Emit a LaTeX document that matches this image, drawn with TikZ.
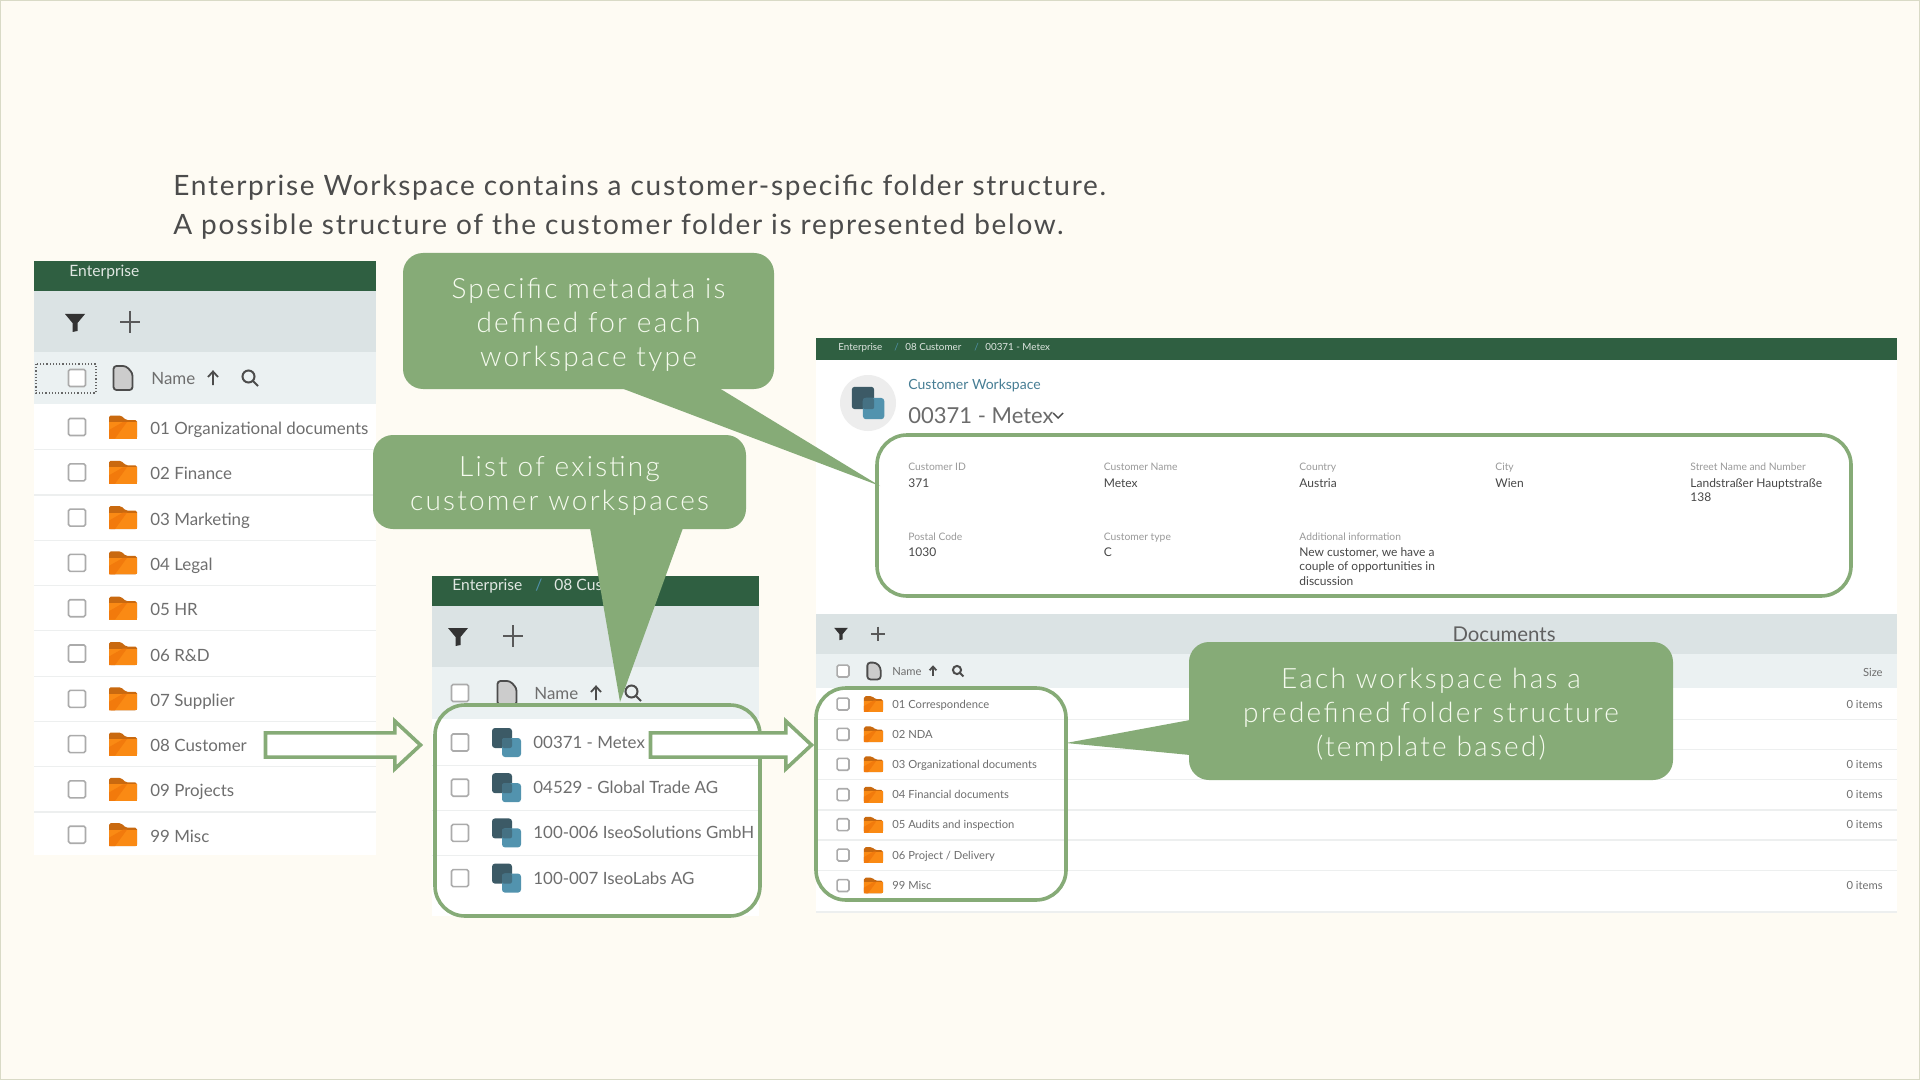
\documentclass[tikz,border=0pt]{standalone}
\usepackage{fontspec}
\setmainfont{Lato}
\newfontfamily\titlefont{Lato}[LetterSpace=6.2]
\newfontfamily\calloutfont{Lato}[UprightFont=* Light,LetterSpace=8]
\usepackage{tikz}
\usetikzlibrary{shapes.arrows}
\definecolor{pagebg}{HTML}{FEFBF3}
\definecolor{pageline}{HTML}{D9DAC6}
\definecolor{headgreen}{HTML}{2F5F41}
\definecolor{toolbar}{HTML}{DBE3E4}
\definecolor{listhead}{HTML}{EBF1F2}
\definecolor{rowline}{HTML}{EDEFEF}
\definecolor{callgreen}{HTML}{86AB77}
\definecolor{calltext}{HTML}{F6FBEF}
\definecolor{uitext}{HTML}{6E6E6E}
\definecolor{wsdark}{HTML}{3C5A66}
\definecolor{wsblue}{HTML}{5293AE}
\definecolor{foldertab}{HTML}{C9690F}
\definecolor{folderbody}{HTML}{FA8A14}
\definecolor{folderfold}{HTML}{F27A0C}
\tikzset{
  txt_title/.style = {anchor=base west, inner sep=0pt, yshift=-5pt, text=black!70, font=\titlefont\fontsize{14}{16}\selectfont},
  txt_head/.style = {anchor=base west, inner sep=0pt, yshift=-2.8pt, text=white!85!headgreen, font=\fontsize{7.8}{9}\selectfont},
  txt_headsm/.style = {anchor=base west, inner sep=0pt, yshift=-1.7pt, text=white!85!headgreen, font=\fontsize{4.9}{6}\selectfont},
  txt_lg/.style = {anchor=base west, inner sep=0pt, yshift=-3pt, text=uitext, font=\fontsize{8.45}{10}\selectfont},
  txt_sm/.style = {anchor=base west, inner sep=0pt, yshift=-2pt, text=uitext, font=\fontsize{5.6}{7}\selectfont},
  txt_label/.style = {anchor=base west, inner sep=0pt, yshift=-1.8pt, text=black!40, font=\fontsize{5.15}{6}\selectfont},
  txt_value/.style = {anchor=base west, inner sep=0pt, yshift=-2.1pt, text=black!72, font=\fontsize{6}{7}\selectfont},
  callout/.style = {fill=callgreen, rounded corners=10pt, inner sep=0pt, align=center,
    text=calltext, font=\calloutfont\fontsize{14}{17}\selectfont},
  tail/.style = {fill=callgreen},
  outline/.style = {draw=callgreen, line width=1.8pt, rounded corners=15pt, inner sep=0pt},
  blockarrow/.style = {single arrow, draw=callgreen, line width=1.8pt, inner sep=0pt,
    single arrow head indent=0pt, single arrow tip angle=86, single arrow head extend=5.9pt},
  checkbox/.pic = {\draw [draw=black!33, fill=white, line width=0.8pt, rounded corners=0.8pt]
    (-8.5,-8.5) rectangle (8.5,8.5);},
  foldericon/.pic = {
    \fill [foldertab, rounded corners=0.8pt] (-14,11.5) -- (-14,-11.5) -- (-2,-11.5) -- (3,-7) -- (14,-7) -- (14,11.5) -- cycle;
    \fill [folderbody] (-14,-5) -- (14,-5) -- (14,11.5) -- (-14,11.5) -- cycle;
    \fill [folderfold] (-14,11.5) -- (-14,3) -- (0,-5) -- (4,-5) -- (-8,11.5) -- cycle;},
  wsicon/.pic = {
    \fill [wsdark, rounded corners=1.5pt] (-14.5,-14.5) rectangle (5.5,5.5);
    \fill [wsblue, rounded corners=1.5pt] (-4.5,-4.5) rectangle (14.5,14.5);
    \fill [wsdark!60!wsblue, rounded corners=1pt] (-4.5,-4.5) rectangle (5.5,5.5);},
  filtericon/.pic = {\fill [black!80] (-10,-9) -- (10,-9) -- (2.5,0) -- (2.5,8) -- (-2.5,9) -- (-2.5,0) -- cycle;},
  plusicon/.pic = {\draw [black!65, line width=0.7pt] (-10,0) -- (10,0) (0,-11) -- (0,11);},
  docicon/.pic = {\draw [draw=black!70, fill=black!20, line width=0.9pt, rounded corners=1.5pt]
    (0,12) -- (-9.5,12) -- (-9.5,-12) -- (3,-12) -- (9.5,-5) -- (9.5,12) -- cycle;},
  uparrow/.pic = {\draw [black!70, line width=0.9pt] (0,7) -- (0,-6) (-5,-1) -- (0,-6.5) -- (5,-1);},
  searchicon/.pic = {\draw [black!70, line width=1pt] (-1.5,-1.5) circle [radius=3pt] (2.5,2.5) -- (8,8);}
}
\begin{document}
\begin{tikzpicture}[x=0.5pt,y=-0.5pt]
	\useasboundingbox (0,0) rectangle (1920,1080);
	\fill [pagebg] (0,0) rectangle (1920,1080);
	\draw [pageline, line width=1.2pt] (0,0) rectangle (1920,1080);

	% intro text
	\node [txt_title] (title_a) at (173,186) {Enterprise Workspace contains a customer-specific folder structure.};
	\node [txt_title] (title_b) at (173,225) {A possible structure of the customer folder is represented below.};

	% left panel, enterprise folders
	\fill [white] (34,404) rectangle (376,855);
	\fill [headgreen] (34,261) rectangle (376,291);
	\fill [toolbar] (34,291) rectangle (376,352);
	\fill [listhead] (34,352) rectangle (376,404);
	\node [txt_head] (ent_a) at (69,271) {Enterprise};
	\pic at (75,323) {filtericon};
	\pic at (130,322) {plusicon};
	\draw [black!60, densely dotted, line width=0.6pt] (36,364) rectangle (96,393);
	\pic at (77,378) {checkbox};
	\pic at (123,378) {docicon};
	\node [txt_lg] (name_a) at (151,379) {Name};
	\pic at (213,378) {uparrow};
	\pic at (250,378) {searchicon};
	\foreach \i/\txt in {0/01 Organizational documents, 1/02 Finance, 2/03 Marketing, 3/04 Legal, 4/05 HR,
	                     5/06 R\&D, 6/07 Supplier, 7/08 Customer, 8/09 Projects, 9/99 Misc} {
		\pgfmathsetmacro\yy{427+45.3*\i}
		\pic at (77,\yy) {checkbox};
		\pic at (123,\yy) {foldericon};
		\node [txt_lg] (folder_\i) at (150,\yy+1.5) {\txt};
		\ifnum\i<9 \draw [rowline, line width=0.6pt] (34,\yy+22.6) -- (376,\yy+22.6); \fi
	}

	% middle panel, customer workspaces
	\fill [white] (432,719) rectangle (759,916);
	\fill [headgreen] (432,576) rectangle (759,606);
	\fill [toolbar] (432,606) rectangle (759,667);
	\fill [listhead] (432,667) rectangle (759,719);
	\node [txt_head] (ent_b) at (452,585) {Enterprise};
	\node [txt_head, text=wsblue] (sep_b) at (535,585) {/};
	\node [txt_head] (cust_b) at (554,585) {08 Customer};
	\pic at (458,637) {filtericon};
	\pic at (513,636) {plusicon};
	\pic at (460,693) {checkbox};
	\pic at (507,693) {docicon};
	\node [txt_lg] (name_b) at (534,693) {Name};
	\pic at (596,693) {uparrow};
	\pic at (633,693) {searchicon};
	\foreach \i/\txt in {0/00371 - Metex, 1/04529 - Global Trade AG, 2/100-006 IseoSolutions GmbH, 3/100-007 IseoLabs AG} {
		\pgfmathsetmacro\yy{742.5+45.2*\i}
		\pic at (460,\yy) {checkbox};
		\pic at (506.5,\yy) {wsicon};
		\node [txt_lg] (ws_\i) at (533,\yy) {\txt};
		\ifnum\i<3 \draw [rowline, line width=0.6pt] (432,\yy+22.6) -- (759,\yy+22.6); \fi
	}

	% right panel, one customer workspace
	\fill [white] (816,359) rectangle (1897,614);
	\fill [headgreen] (816,338) rectangle (1897,360);
	\node [txt_headsm] (ent_c) at (838,347) {Enterprise};
	\node [txt_headsm, text=wsblue] (sep_c) at (894,347) {/};
	\node [txt_headsm] (cust_c) at (905,347) {08 Customer};
	\node [txt_headsm, text=wsblue] (sep_d) at (974,347) {/};
	\node [txt_headsm] (ws_c) at (985,347) {00371 - Metex};
	\fill [black!7] (868,403) circle [radius=14pt];
	\pic [scale=1.12] at (868,403) {wsicon};
	\node [txt_lg, text=wsblue!85!black, font=\fontsize{7}{9}\selectfont] (ws_type) at (908,383) {Customer Workspace};
	\node [txt_lg, text=black!58, font=\fontsize{11}{13}\selectfont] (ws_title) at (908,417) {00371 - Metex};
	\draw [black!70, line width=0.7pt] (1053,413) -- (1058,418) -- (1063,413);

	\node [txt_label] (lab_a) at (908,467) {Customer ID};
	\node [txt_value] (val_a) at (908,483) {371};
	\node [txt_label] (lab_b) at (1103.5,467) {Customer Name};
	\node [txt_value] (val_b) at (1103.5,483) {Metex};
	\node [txt_label] (lab_c) at (1299,467) {Country};
	\node [txt_value] (val_c) at (1299,483) {Austria};
	\node [txt_label] (lab_d) at (1495,467) {City};
	\node [txt_value] (val_d) at (1495,483) {Wien};
	\node [txt_label] (lab_e) at (1690,467) {Street Name and Number};
	\node [txt_value] (val_e) at (1690,483) {Landstraßer Hauptstraße};
	\node [txt_value] (val_f) at (1690,497) {138};
	\node [txt_label] (lab_g) at (908,537) {Postal Code};
	\node [txt_value] (val_g) at (908,552) {1030};
	\node [txt_label] (lab_h) at (1103.5,537) {Customer type};
	\node [txt_value] (val_h) at (1103.5,552) {C};
	\node [txt_label] (lab_i) at (1299,537) {Additional information};
	\node [txt_value] (val_i) at (1299,552) {New customer, we have a};
	\node [txt_value] (val_j) at (1299,566) {couple of opportunities in};
	\node [txt_value] (val_k) at (1299,581) {discussion};

	% documents list
	\fill [toolbar] (816,614) rectangle (1897,654);
	\fill [listhead] (816,654) rectangle (1897,688);
	\fill [white] (816,688) rectangle (1897,912);
	\node [txt_lg, anchor=base, text=black!62, font=\fontsize{10.2}{12}\selectfont] (docs) at (1504,635.5) {Documents};
	\pic [scale=0.68] at (841,634) {filtericon};
	\pic [scale=0.68] at (878,634) {plusicon};
	\pic [scale=0.7] at (843,671) {checkbox};
	\pic [scale=0.7] at (874,671) {docicon};
	\node [txt_sm] (name_c) at (892,671) {Name};
	\pic [scale=0.68] at (933,671) {uparrow};
	\pic [scale=0.68] at (958,671) {searchicon};
	\node [txt_sm, anchor=base east] (size) at (1883,672) {Size};
	\foreach \i/\yy/\txt in {0/704/01 Correspondence, 1/734.3/02 NDA, 2/764.3/03 Organizational documents, 3/794.7/04 Financial documents,
	                         4/824.7/05 Audits and inspection, 5/855/{06 Project / Delivery}, 6/885.5/99 Misc} {
		\pic [scale=0.7] at (843,\yy) {checkbox};
		\pic [scale=0.68] at (873.5,\yy) {foldericon};
		\node [txt_sm] (doc_\i) at (892,\yy) {\txt};
		\ifnum\i<6 \draw [rowline, line width=0.6pt] (816,\yy+15.3) -- (1897,\yy+15.3); \fi
	}
	\draw [rowline, line width=0.6pt] (816,912) -- (1897,912);
	\foreach \i/\yy in {0/704, 2/764.3, 3/794.7, 4/824.7, 6/885.5} {
		\node [txt_sm, anchor=base east] (items_\i) at (1883,\yy) {0 items};
	}

	% green frames
	\node [outline, minimum width=162.5pt, minimum height=105.5pt] (box_list) at (597.5,810.5) {};
	\node [outline, minimum width=487pt, minimum height=80.5pt] (box_meta) at (1364,515.5) {};
	\node [outline, minimum width=125pt, minimum height=106pt] (box_docs) at (941,794) {};

	% block arrows
	\node [blockarrow, minimum height=77.5pt] (arrow_a) at (336.5,745) {\rule{0pt}{10.3pt}};
	\node [blockarrow, fill=white, minimum height=80.5pt] (arrow_b) at (724.5,745) {\rule{0pt}{10.3pt}};

	% callouts
	\coordinate (tip_meta) at (880,486);
	\coordinate (tip_list) at (620,702);
	\coordinate (tip_docs) at (1066,743);
	\fill [tail] (621,388) -- (tip_meta) -- (719,388) -- cycle;
	\fill [tail] (590,528) -- (tip_list) -- (683,528) -- cycle;
	\fill [tail] (1190,720) -- (tip_docs) -- (1190,755) -- cycle;
	\node [callout, minimum width=185.5pt, minimum height=68pt] (call_meta) at (588.5,321) {\rule{0pt}{14pt}Specific metadata is\\defined for each\\workspace type};
	\node [callout, minimum width=186.5pt, minimum height=47pt] (call_list) at (559.5,482) {\rule{0pt}{14pt}List of existing\\customer workspaces};
	\node [callout, minimum width=242pt, minimum height=69pt] (call_docs) at (1431,711) {\rule{0pt}{14pt}Each workspace has a\\predefined folder structure\\(template based)};
\end{tikzpicture}
\end{document}
